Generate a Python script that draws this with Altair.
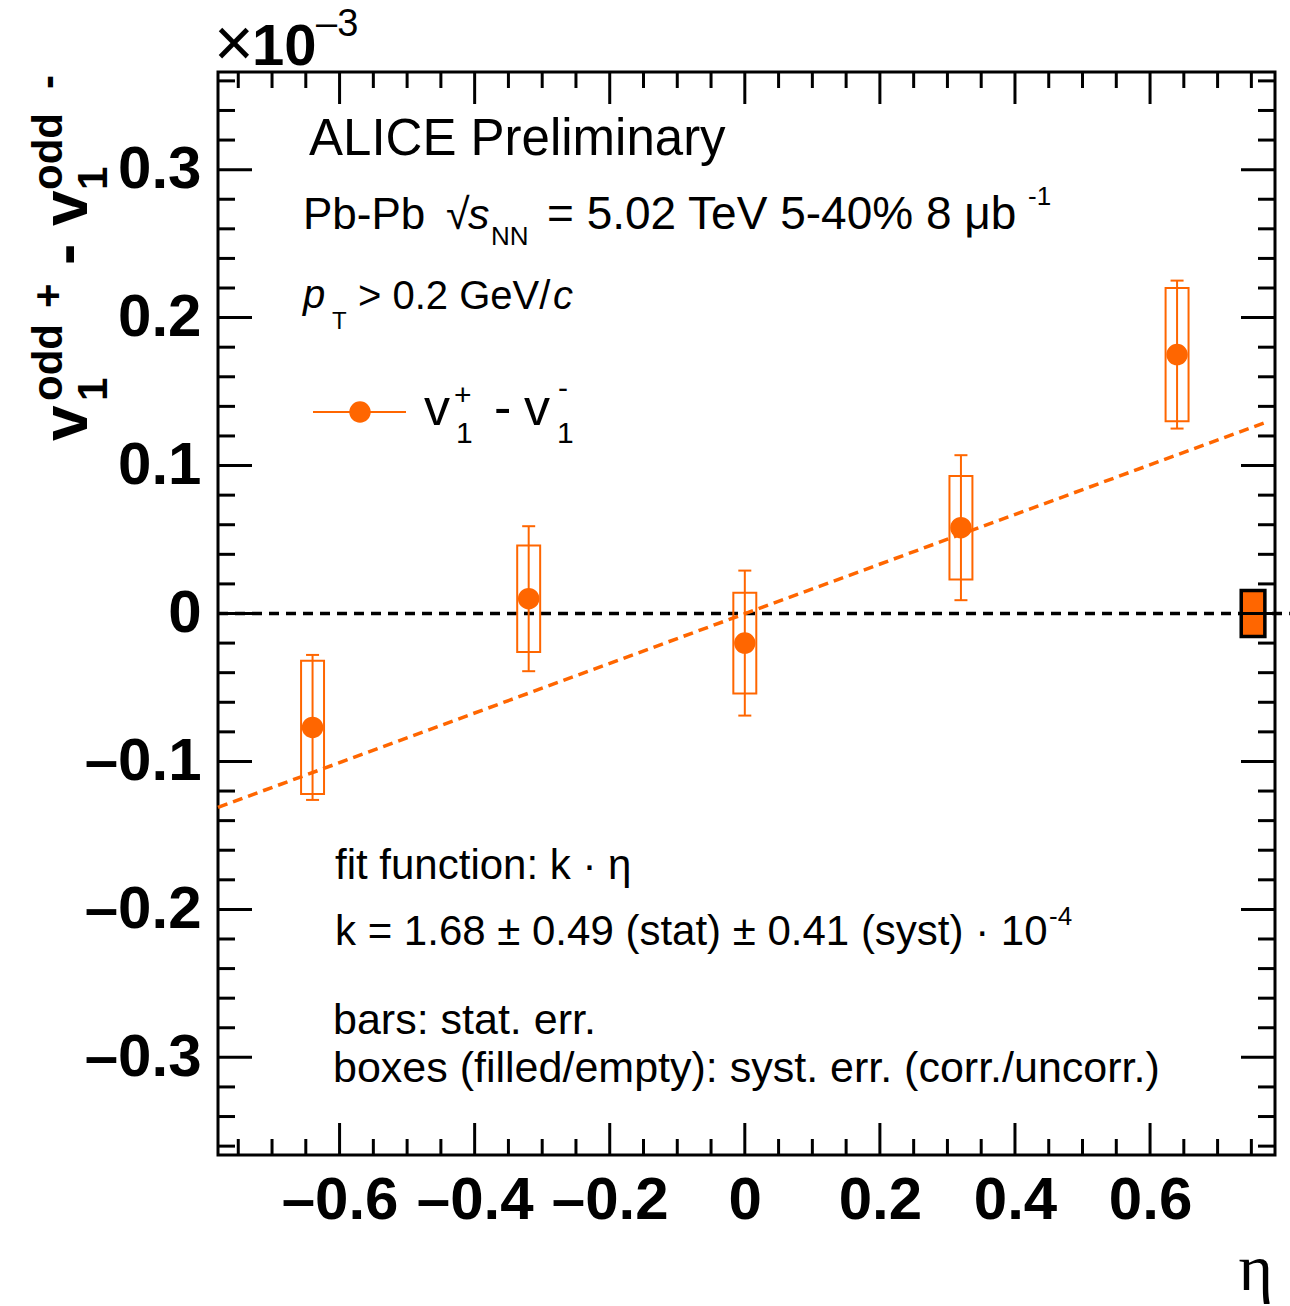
import altair as alt
import pandas as pd

# ---------------- data ----------------
eta = [-0.64, -0.32, 0.0, 0.32, 0.64]
v1_diff = [-0.077, 0.010, -0.020, 0.058, 0.175]
stat_err = [0.049, 0.049, 0.049, 0.049, 0.050]
syst_err = [0.045, 0.036, 0.034, 0.035, 0.045]
box_half_width = 0.017

fit_eta = [-0.78, 0.77]
fit_v = [-0.131, 0.129]

corr_eta = [0.7525]
corr_val = [0.0]
corr_syst = [0.0155]
corr_half_width = 0.0175

zero_x = [-0.78, 0.807]

x_major = [-0.6, -0.4, -0.2, 0.0, 0.2, 0.4, 0.6]
x_minor = [-0.75, -0.7, -0.65, -0.55, -0.5, -0.45, -0.35, -0.3, -0.25,
           -0.15, -0.1, -0.05, 0.05, 0.1, 0.15, 0.25, 0.3, 0.35,
           0.45, 0.5, 0.55, 0.65, 0.7, 0.75]
y_major = [-0.3, -0.2, -0.1, 0.0, 0.1, 0.2, 0.3]
y_minor = [-0.36, -0.34, -0.32, -0.28, -0.26, -0.24, -0.22, -0.18, -0.16,
           -0.14, -0.12, -0.08, -0.06, -0.04, -0.02, 0.02, 0.04, 0.06,
           0.08, 0.12, 0.14, 0.16, 0.18, 0.22, 0.24, 0.26, 0.28, 0.32,
           0.34, 0.36]

X_DOMAIN = [-0.78, 0.785]
Y_DOMAIN = [-0.366, 0.366]

ORANGE = "#ff6600"
FONT = "Liberation Sans"
W, H = 1057, 1083
LEFT, TOP = 218, 72

# ---------------- tables ----------------
df = pd.DataFrame({"eta": eta, "v": v1_diff, "stat": stat_err, "syst": syst_err})
df["stat_lo"] = df["v"] - df["stat"]
df["stat_hi"] = df["v"] + df["stat"]
df["syst_lo"] = df["v"] - df["syst"]
df["syst_hi"] = df["v"] + df["syst"]
df["box_lo"] = df["eta"] - box_half_width
df["box_hi"] = df["eta"] + box_half_width

fit_df = pd.DataFrame({"eta": fit_eta, "v": fit_v})
corr_df = pd.DataFrame({"eta": corr_eta, "v": corr_val, "s": corr_syst})
corr_df["x0"] = corr_df["eta"] - corr_half_width
corr_df["x1"] = corr_df["eta"] + corr_half_width
corr_df["y0"] = corr_df["v"] - corr_df["s"]
corr_df["y1"] = corr_df["v"] + corr_df["s"]
zero_df = pd.DataFrame({"x0": [zero_x[0]], "x1": [zero_x[1]], "y": [0.0]})

xscale = alt.Scale(domain=X_DOMAIN, nice=False, zero=False)
yscale = alt.Scale(domain=Y_DOMAIN, nice=False, zero=False)

label_expr = "datum.value < 0 ? '\u2013' + format(-datum.value, '.1~f') : format(datum.value, '.1~f')"
xaxis = alt.Axis(values=x_major, labelExpr=label_expr, ticks=False, domain=False, grid=False,
                 labelFont=FONT, labelFontSize=60, labelFontWeight="bold", labelColor="black",
                 labelPadding=16, labelFlush=False, labelOverlap=False, title=None)
yaxis = alt.Axis(values=y_major, labelExpr=label_expr, ticks=False, domain=False, grid=False,
                 labelFont=FONT, labelFontSize=60, labelFontWeight="bold", labelColor="black",
                 labelPadding=17, labelFlush=False, labelOverlap=False, title=None)


def X(field):
    return alt.X(field, type="quantitative", scale=xscale, axis=xaxis)


def Y(field):
    return alt.Y(field, type="quantitative", scale=yscale, axis=yaxis)


layers = []

# zero line
layers.append(alt.Chart(zero_df).mark_rule(color="black", strokeWidth=3.5, strokeDash=[10, 7]).encode(
    x=X("x0"), x2="x1", y=Y("y")))

# fit line
layers.append(alt.Chart(fit_df).mark_line(color=ORANGE, strokeWidth=3.5, strokeDash=[10, 6]).encode(
    x=X("eta"), y=Y("v")))

# uncorrelated syst boxes
layers.append(alt.Chart(df).mark_rect(fillOpacity=0, stroke=ORANGE, strokeWidth=2).encode(
    x=X("box_lo"), x2="box_hi", y=Y("syst_lo"), y2="syst_hi"))

# stat bars
layers.append(alt.Chart(df).mark_rule(color=ORANGE, strokeWidth=2).encode(
    x=X("eta"), y=Y("stat_lo"), y2="stat_hi"))
for f in ["stat_lo", "stat_hi"]:
    layers.append(alt.Chart(df).mark_tick(orient="horizontal", size=13, thickness=2, color=ORANGE,
                                          opacity=1).encode(x=X("eta"), y=Y(f)))

# points
layers.append(alt.Chart(df).mark_circle(size=460, color=ORANGE, opacity=1).encode(
    x=X("eta"), y=Y("v")))

# correlated syst box
layers.append(alt.Chart(corr_df).mark_rect(fill=ORANGE, stroke="black", strokeWidth=3.5).encode(
    x=X("x0"), x2="x1", y=Y("y0"), y2="y1"))

# frame ticks (inside, on all four sides)
XMAJ, XMIN, YMAJ, YMIN = 32, 16, 34, 17
xmaj_df = pd.DataFrame({"t": x_major})
xmin_df = pd.DataFrame({"t": x_minor})
ymaj_df = pd.DataFrame({"t": y_major})
ymin_df = pd.DataFrame({"t": y_minor})
for d, ln in [(xmaj_df, XMAJ), (xmin_df, XMIN)]:
    layers.append(alt.Chart(d).mark_rule(color="black", strokeWidth=3).encode(
        x=X("t"), y=alt.value(H), y2=alt.value(H - ln)))
    layers.append(alt.Chart(d).mark_rule(color="black", strokeWidth=3).encode(
        x=X("t"), y=alt.value(0), y2=alt.value(ln)))
for d, ln in [(ymaj_df, YMAJ), (ymin_df, YMIN)]:
    layers.append(alt.Chart(d).mark_rule(color="black", strokeWidth=3).encode(
        y=Y("t"), x=alt.value(0), x2=alt.value(ln)))
    layers.append(alt.Chart(d).mark_rule(color="black", strokeWidth=3).encode(
        y=Y("t"), x=alt.value(W), x2=alt.value(W - ln)))

# legend symbol
layers.append(alt.Chart(pd.DataFrame({"a": [0]})).mark_rule(color=ORANGE, strokeWidth=2).encode(
    x=alt.value(313 - LEFT), x2=alt.value(406 - LEFT), y=alt.value(412 - TOP)))
layers.append(alt.Chart(pd.DataFrame({"a": [0]})).mark_circle(size=460, color=ORANGE, opacity=1).encode(
    x=alt.value(360 - LEFT), y=alt.value(412 - TOP)))


def txt(text, x, y, size, weight="normal", style="normal", font=FONT, align="left", angle=0):
    return alt.Chart(pd.DataFrame({"a": [0]})).mark_text(
        text=text, font=font, fontSize=size, fontWeight=weight, fontStyle=style,
        align=align, baseline="alphabetic", angle=angle, color="black").encode(
        x=alt.value(x - LEFT), y=alt.value(y - TOP))


texts = [
    # x10^-3 multiplier
    txt("\u00d7", 214, 66, 68),
    txt("10", 252, 65, 58, weight="bold"),
    txt("\u20133", 316, 36, 38),
    # header
    txt("ALICE Preliminary", 309, 155, 51),
    txt("Pb-Pb", 303, 229, 44),
    txt("\u221a", 446, 229, 43),
    txt("s", 468, 229, 43, style="italic"),
    txt("NN", 491, 245, 26),
    txt("= 5.02 TeV 5-40% 8 \u03bcb", 547, 229, 46),
    txt("-1", 1028, 205, 26),
    txt("p", 303, 308, 40, style="italic"),
    txt("T", 332, 329, 24),
    txt("> 0.2 GeV/", 358, 309, 40),
    txt("c", 553, 309, 40, style="italic"),
    # legend text
    txt("v", 424, 425, 52),
    txt("+", 454, 405, 30),
    txt("1", 456, 443, 30),
    txt("-", 494, 425, 52),
    txt("v", 524, 425, 52),
    txt("-", 558, 398, 30),
    txt("1", 557, 443, 30),
    # fit and notes
    txt("fit function: k \u00b7 \u03b7", 335, 879, 42),
    txt("k = 1.68 \u00b1 0.49 (stat) \u00b1 0.41 (syst) \u00b7 10", 335, 945, 42),
    txt("-4", 1049, 925, 26),
    txt("bars: stat. err.", 333, 1034, 43),
    txt("boxes (filled/empty): syst. err. (corr./uncorr.)", 333, 1082, 43),
    # x axis title
    txt("\u03b7", 1273, 1290, 66, font="Liberation Serif", align="right"),
    # y axis title (rotated)
    txt("v", 87, 441, 64, weight="bold", angle=270),
    txt("1", 107, 401, 42, weight="bold", angle=270),
    txt("odd", 62, 401, 42, weight="bold", angle=270),
    txt("+", 62, 308, 42, weight="bold", angle=270),
    txt("-", 87, 265, 64, weight="bold", angle=270),
    txt("v", 87, 226, 64, weight="bold", angle=270),
    txt("1", 107, 190, 42, weight="bold", angle=270),
    txt("odd", 62, 190, 42, weight="bold", angle=270),
    txt("-", 62, 89, 42, weight="bold", angle=270),
]
layers.extend(texts)

chart = alt.layer(*layers).properties(
    width=W, height=H,
    padding={"left": LEFT, "top": TOP, "right": 1290 - LEFT - W, "bottom": 1306 - TOP - H},
    autosize=alt.AutoSizeParams(type="none"),
    background="white",
).configure_view(stroke="black", strokeWidth=3)

chart.save("out.html", embed_options={"renderer": "svg", "actions": False})
